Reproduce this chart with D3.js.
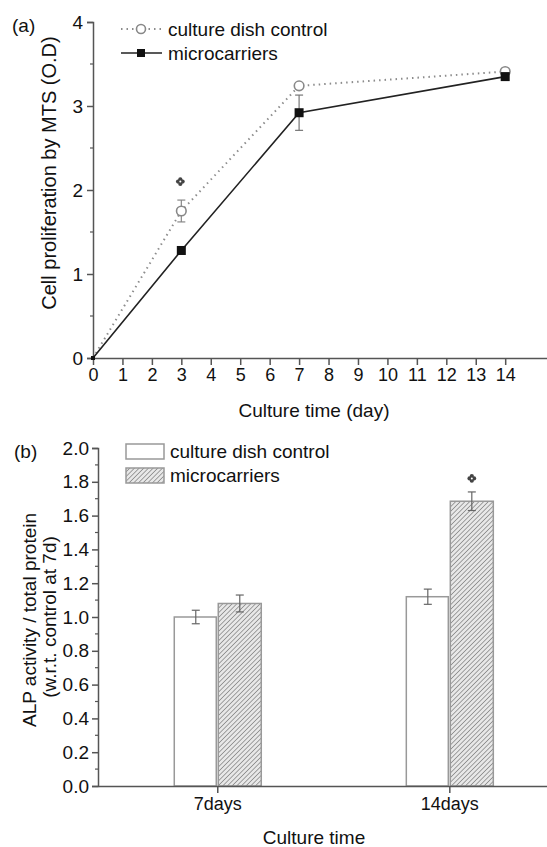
<!DOCTYPE html>
<html>
<head>
<meta charset="utf-8">
<script src="https://cdn.jsdelivr.net/npm/d3@7"></script>
<style>
  html, body { margin: 0; padding: 0; background: #fff; }
  svg { display: block; font-family: "Liberation Sans", Arial, sans-serif; }
</style>
</head>
<body>
<svg id="chart" width="547" height="847"></svg>
<script>
// ---------- Panel (a) data ----------
const days = [0, 3, 7, 14];
const controlMTS = [0, 1.75, 3.24, 3.41];
const controlMTSErr = [0, 0.13, 0.02, 0.02];
const microMTS = [0, 1.28, 2.92, 3.35];
const microMTSErr = [0, 0.02, 0.21, 0.03];
const xTicksA = [0,1,2,3,4,5,6,7,8,9,10,11,12,13,14];
const yTicksA = [0, 1, 2, 3, 4];
const yMinorA = [0.5, 1.5, 2.5, 3.5];
const sigA = [{ day: 3, value: 2.1 }];

// ---------- Panel (b) data ----------
const timeCats = ["7days", "14days"];
const controlALP = [1.0, 1.12];
const controlALPErr = [0.04, 0.045];
const microALP = [1.08, 1.685];
const microALPErr = [0.05, 0.055];
const yTicksB = [0.0, 0.2, 0.4, 0.6, 0.8, 1.0, 1.2, 1.4, 1.6, 1.8, 2.0];
const yMinorB = [0.1, 0.3, 0.5, 0.7, 0.9, 1.1, 1.3, 1.5, 1.7, 1.9];
const sigB = [{ cat: 1, value: 1.82 }];

const seriesNames = ["culture dish control", "microcarriers"];

const svg = d3.select("#chart");
const axisColor = "#555";
const FS = 18;

// pattern
const defs = svg.append("defs");
const pat = defs.append("pattern").attr("id", "hatch")
  .attr("patternUnits", "userSpaceOnUse").attr("width", 3.3).attr("height", 3.3)
  .attr("patternTransform", "rotate(45)");
pat.append("rect").attr("width", 3.3).attr("height", 3.3).attr("fill", "#e8e8e8");
pat.append("line").attr("x1", 0).attr("y1", 0).attr("x2", 0).attr("y2", 3.3)
  .attr("stroke", "#6e6e6e").attr("stroke-width", 1.2);

function drawSig(g, x, y) {
  const r = 2.1, d = 2.3;
  [[0,-d],[d,0],[0,d],[-d,0]].forEach(([dx,dy]) => {
    g.append("circle").attr("cx", x+dx).attr("cy", y+dy).attr("r", r).attr("fill", "#444");
  });
  g.append("circle").attr("cx", x).attr("cy", y).attr("r", 1).attr("fill", "#fff");
}

// ================= Panel (a) =================
const xA = d3.scaleLinear().domain([0, 15.42]).range([93, 547]);
const yA = d3.scaleLinear().domain([0, 4]).range([358, 22]);
const gA = svg.append("g");

// y axis
const yAxisA = d3.axisLeft(yA).tickValues(yTicksA).tickSize(6).tickFormat(d3.format("d"));
const gyA = gA.append("g").attr("transform", `translate(${xA(0)},0)`).call(yAxisA);
gyA.select(".domain").attr("stroke", axisColor).attr("stroke-width", 1.5);
gyA.selectAll(".tick line").attr("stroke", axisColor).attr("stroke-width", 1.5);
gyA.selectAll(".tick text").attr("font-size", FS + 1).attr("fill", "#111").attr("x", -10);
gA.selectAll(".minorYA").data(yMinorA).enter().append("line")
  .attr("x1", xA(0) - 3).attr("x2", xA(0)).attr("y1", d => yA(d)).attr("y2", d => yA(d))
  .attr("stroke", axisColor).attr("stroke-width", 1.2);

// x axis
const xAxisA = d3.axisBottom(xA).tickValues(xTicksA).tickSize(7).tickSizeOuter(0).tickFormat(d3.format("d"));
const gxA = gA.append("g").attr("transform", `translate(0,${yA(0)})`).call(xAxisA);
gxA.select(".domain").attr("stroke", axisColor).attr("stroke-width", 1.5);
gxA.selectAll(".tick line").attr("stroke", axisColor).attr("stroke-width", 1.5);
gxA.selectAll(".tick text").attr("font-size", FS).attr("fill", "#111").attr("y", 10);

gA.append("text").attr("x", 314).attr("y", 417).attr("text-anchor", "middle")
  .attr("font-size", 19).attr("fill", "#111").text("Culture time (day)");
gA.append("text").attr("transform", `translate(56,173) rotate(-90)`).attr("text-anchor", "middle")
  .attr("font-size", 20).attr("fill", "#111").text("Cell proliferation by MTS (O.D)");
gA.append("text").attr("x", 12).attr("y", 32).attr("font-size", 19).attr("fill", "#111").text("(a)");

const lineA = d3.line().x((d, i) => xA(days[i])).y(d => yA(d));

// control (dotted)
gA.append("path").datum(controlMTS).attr("d", lineA).attr("fill", "none")
  .attr("stroke", "#8c8c8c").attr("stroke-width", 2).attr("stroke-dasharray", "1.5,4");
// micro (solid)
gA.append("path").datum(microMTS).attr("d", lineA).attr("fill", "none")
  .attr("stroke", "#222").attr("stroke-width", 1.6);

function errBars(g, vals, errs, xs, color) {
  vals.forEach((v, i) => {
    if (errs[i] <= 0.03) return;
    const x = xs[i];
    const y1 = yA(v + errs[i]), y2 = yA(v - errs[i]);
    g.append("line").attr("x1", x).attr("x2", x).attr("y1", y1).attr("y2", y2).attr("stroke", color).attr("stroke-width", 1.2);
    [y1, y2].forEach(y => g.append("line").attr("x1", x - 4).attr("x2", x + 4).attr("y1", y).attr("y2", y).attr("stroke", color).attr("stroke-width", 1.2));
  });
}
errBars(gA, controlMTS, controlMTSErr, days.map(d => xA(d)), "#888");
errBars(gA, microMTS, microMTSErr, days.map(d => xA(d)), "#777");

// markers
controlMTS.forEach((v, i) => {
  if (i === 0) return;
  gA.append("circle").attr("cx", xA(days[i])).attr("cy", yA(v)).attr("r", 4.8)
    .attr("fill", "#fff").attr("stroke", "#888").attr("stroke-width", 1.6);
});
microMTS.forEach((v, i) => {
  const s = i === 0 ? 4 : 9;
  gA.append("rect").attr("x", xA(days[i]) - s/2).attr("y", yA(v) - s/2).attr("width", s).attr("height", s)
    .attr("fill", "#111");
});
sigA.forEach(s => drawSig(gA, xA(s.day) - 1, yA(s.value)));

// legend (a)
const legA = gA.append("g");
legA.append("line").attr("x1", 121).attr("x2", 162).attr("y1", 29).attr("y2", 29)
  .attr("stroke", "#8c8c8c").attr("stroke-width", 2).attr("stroke-dasharray", "1.5,4");
legA.append("circle").attr("cx", 141).attr("cy", 29).attr("r", 4.5).attr("fill", "#fff").attr("stroke", "#888").attr("stroke-width", 1.6);
legA.append("text").attr("x", 168).attr("y", 35.5).attr("font-size", 19).attr("fill", "#111").text(seriesNames[0]);
legA.append("line").attr("x1", 121).attr("x2", 162).attr("y1", 53).attr("y2", 53)
  .attr("stroke", "#222").attr("stroke-width", 1.6);
legA.append("rect").attr("x", 137).attr("y", 49).attr("width", 8).attr("height", 8).attr("fill", "#111");
legA.append("text").attr("x", 168).attr("y", 59.5).attr("font-size", 19).attr("fill", "#111").text(seriesNames[1]);

// ================= Panel (b) =================
const xB = d3.scaleLinear().domain([-0.514, 1.421]).range([98, 547]);
const yB = d3.scaleLinear().domain([0, 2]).range([786, 448]);
const gB = svg.append("g");
const barW = 43;

const yAxisB = d3.axisLeft(yB).tickValues(yTicksB).tickSize(6).tickFormat(d3.format(".1f"));
const gyB = gB.append("g").attr("transform", `translate(98,0)`).call(yAxisB);
gyB.select(".domain").attr("stroke", axisColor).attr("stroke-width", 1.5);
gyB.selectAll(".tick line").attr("stroke", axisColor).attr("stroke-width", 1.5);
gyB.selectAll(".tick text").attr("font-size", FS + 1).attr("fill", "#111").attr("x", -9);
gB.selectAll(".minorYB").data(yMinorB).enter().append("line")
  .attr("x1", 95).attr("x2", 98).attr("y1", d => yB(d)).attr("y2", d => yB(d))
  .attr("stroke", axisColor).attr("stroke-width", 1.2);

// bars
timeCats.forEach((c, i) => {
  const cx = xB(i);
  gB.append("rect").attr("x", cx - barW).attr("y", yB(controlALP[i])).attr("width", barW - 1)
    .attr("height", yB(0) - yB(controlALP[i])).attr("fill", "#fff").attr("stroke", "#999").attr("stroke-width", 1.5);
  gB.append("rect").attr("x", cx + 1).attr("y", yB(microALP[i])).attr("width", barW)
    .attr("height", yB(0) - yB(microALP[i])).attr("fill", "url(#hatch)").attr("stroke", "#999").attr("stroke-width", 1.5);
  // error bars
  [[cx - barW/2, controlALP[i], controlALPErr[i]], [cx + 1 + barW/2, microALP[i], microALPErr[i]]].forEach(([x, v, e]) => {
    const y1 = yB(v + e), y2 = yB(v - e);
    gB.append("line").attr("x1", x).attr("x2", x).attr("y1", y1).attr("y2", y2).attr("stroke", "#666").attr("stroke-width", 1.2);
    [y1, y2].forEach(y => gB.append("line").attr("x1", x - 4).attr("x2", x + 4).attr("y1", y).attr("y2", y).attr("stroke", "#666").attr("stroke-width", 1.2));
  });
});
sigB.forEach(s => drawSig(gB, xB(s.cat) + 1 + barW/2, yB(s.value)));

// x axis
const xAxisB = d3.axisBottom(xB).tickValues([0, 1]).tickSize(7).tickSizeOuter(0).tickFormat(i => timeCats[i]);
const gxB = gB.append("g").attr("transform", `translate(0,${yB(0)})`).call(xAxisB);
gxB.select(".domain").attr("stroke", axisColor).attr("stroke-width", 1.5);
gxB.selectAll(".tick line").attr("stroke", axisColor).attr("stroke-width", 1.5);
gxB.selectAll(".tick text").attr("font-size", FS).attr("fill", "#111").attr("y", 11);

gB.append("text").attr("x", 314).attr("y", 844).attr("text-anchor", "middle")
  .attr("font-size", 19).attr("fill", "#111").text("Culture time");
gB.append("text").attr("transform", `translate(36,620) rotate(-90)`).attr("text-anchor", "middle")
  .attr("font-size", 19).attr("fill", "#111").text("ALP activity / total protein");
gB.append("text").attr("transform", `translate(56,617) rotate(-90)`).attr("text-anchor", "middle")
  .attr("font-size", 19).attr("fill", "#111").text("(w.r.t. control at 7d)");
gB.append("text").attr("x", 14).attr("y", 458).attr("font-size", 19).attr("fill", "#111").text("(b)");

// legend (b)
const legB = gB.append("g");
legB.append("rect").attr("x", 126).attr("y", 444).attr("width", 38).attr("height", 15)
  .attr("fill", "#fff").attr("stroke", "#999").attr("stroke-width", 1.5);
legB.append("text").attr("x", 170).attr("y", 458).attr("font-size", 19).attr("fill", "#111").text(seriesNames[0]);
legB.append("rect").attr("x", 126).attr("y", 468).attr("width", 38).attr("height", 15)
  .attr("fill", "url(#hatch)").attr("stroke", "#999").attr("stroke-width", 1.5);
legB.append("text").attr("x", 170).attr("y", 482).attr("font-size", 19).attr("fill", "#111").text(seriesNames[1]);
</script>
</body>
</html>
